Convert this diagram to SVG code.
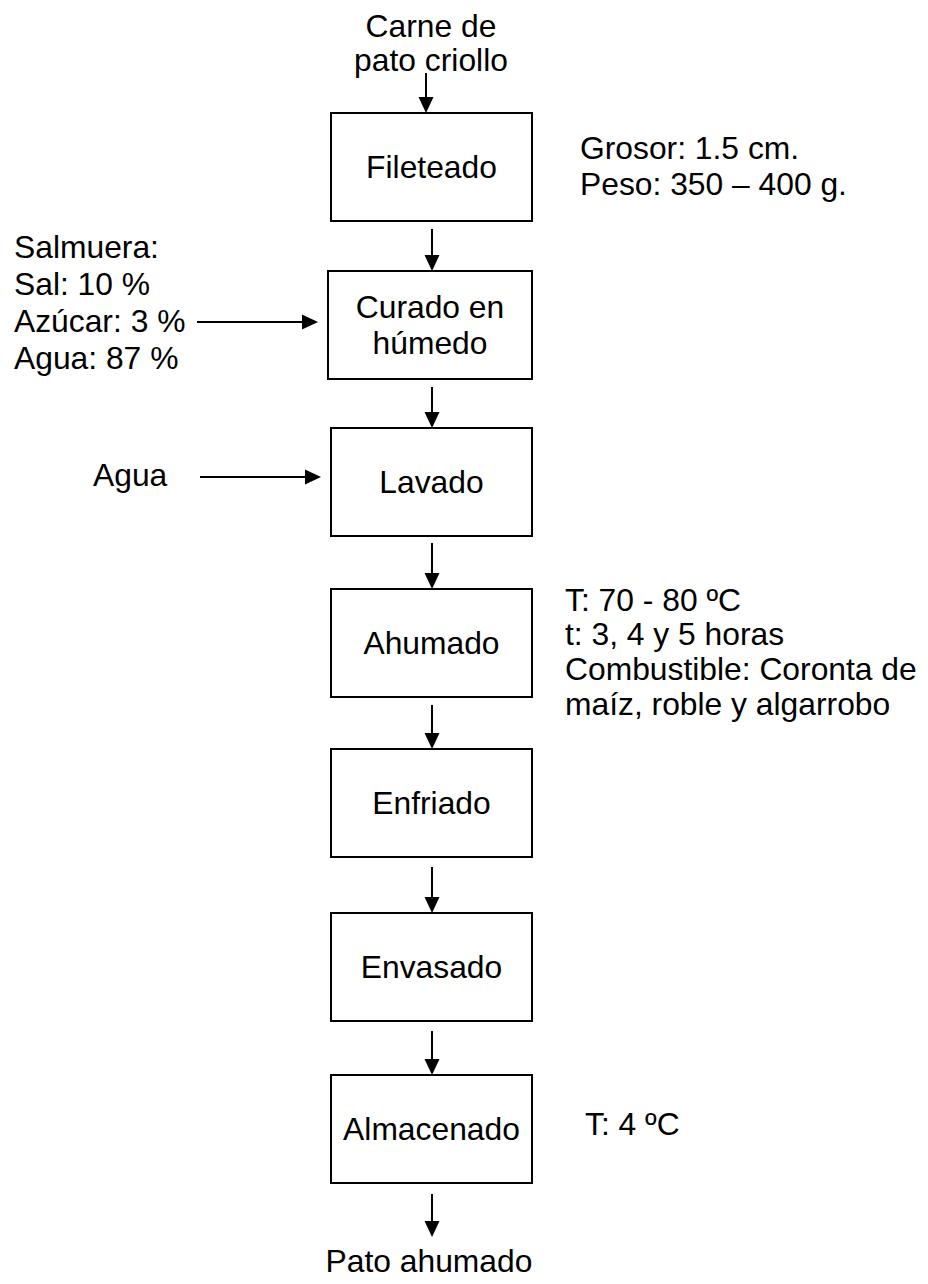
<svg xmlns="http://www.w3.org/2000/svg" width="928" height="1284" viewBox="0 0 928 1284">
<style>
text{font-family:"Liberation Sans",Arial,sans-serif;font-size:31.8px;fill:#000}
.c{text-anchor:middle}
.box{fill:#fff;stroke:#000;stroke-width:2}
.ln{stroke:#000;stroke-width:2;fill:none;marker-end:url(#ah)}
</style>
<defs>
<marker id="ah" markerUnits="userSpaceOnUse" viewBox="0 0 16 16" refX="13" refY="8" markerWidth="16" markerHeight="16" orient="auto">
<path d="M0,0.5 L16,8 L0,15.5 z" fill="#000"/>
</marker>
</defs>
<rect width="928" height="1284" fill="#fff"/>
<g id="connectors">
<line class="ln" x1="426" y1="73" x2="426" y2="110"/>
<line class="ln" x1="432" y1="229" x2="432" y2="268"/>
<line class="ln" x1="432" y1="387" x2="432" y2="425"/>
<line class="ln" x1="432" y1="543" x2="432" y2="586"/>
<line class="ln" x1="432" y1="705" x2="432" y2="746"/>
<line class="ln" x1="432" y1="867" x2="432" y2="910"/>
<line class="ln" x1="432" y1="1031" x2="432" y2="1072"/>
<line class="ln" x1="432" y1="1194" x2="432" y2="1234"/>
<line class="ln" x1="197" y1="322" x2="315" y2="322"/>
<line class="ln" x1="200" y1="477" x2="318" y2="477"/>
</g>
<g id="input"><text class="c" x="431" y="37">Carne de</text><text class="c" x="431" y="71">pato criollo</text></g>
<g id="fileteado"><rect class="box" x="331" y="113" width="201" height="108"/><text class="c" x="431.5" y="178">Fileteado</text></g>
<g id="curado"><rect class="box" x="328" y="271" width="204" height="108"/><text class="c" x="430" y="318">Curado en</text><text class="c" x="430" y="354">húmedo</text></g>
<g id="lavado"><rect class="box" x="331" y="428" width="201" height="108"/><text class="c" x="431.5" y="493">Lavado</text></g>
<g id="ahumado"><rect class="box" x="331" y="589" width="201" height="108"/><text class="c" x="431.5" y="654">Ahumado</text></g>
<g id="enfriado"><rect class="box" x="331" y="749" width="201" height="108"/><text class="c" x="431.5" y="814">Enfriado</text></g>
<g id="envasado"><rect class="box" x="331" y="913" width="201" height="108"/><text class="c" x="431.5" y="978">Envasado</text></g>
<g id="almacenado"><rect class="box" x="331" y="1075" width="201" height="108"/><text class="c" x="431.5" y="1140">Almacenado</text></g>
<g id="output"><text class="c" x="429" y="1272">Pato ahumado</text></g>
<g id="salmuera"><text x="14" y="258">Salmuera:</text><text x="14" y="295">Sal: 10 %</text><text x="14" y="332">Azúcar: 3 %</text><text x="14" y="369">Agua: 87 %</text></g>
<g id="agua"><text x="93" y="486">Agua</text></g>
<g id="fileteado-note"><text x="580" y="159">Grosor: 1.5 cm.</text><text x="580" y="195">Peso: 350 – 400 g.</text></g>
<g id="ahumado-note"><text x="565" y="611">T: 70 - 80 ºC</text><text x="565" y="645">t: 3, 4 y 5 horas</text><text x="565" y="680">Combustible: Coronta de</text><text x="565" y="715">maíz, roble y algarrobo</text></g>
<g id="almacenado-note"><text x="585" y="1135">T: 4 ºC</text></g>
</svg>
